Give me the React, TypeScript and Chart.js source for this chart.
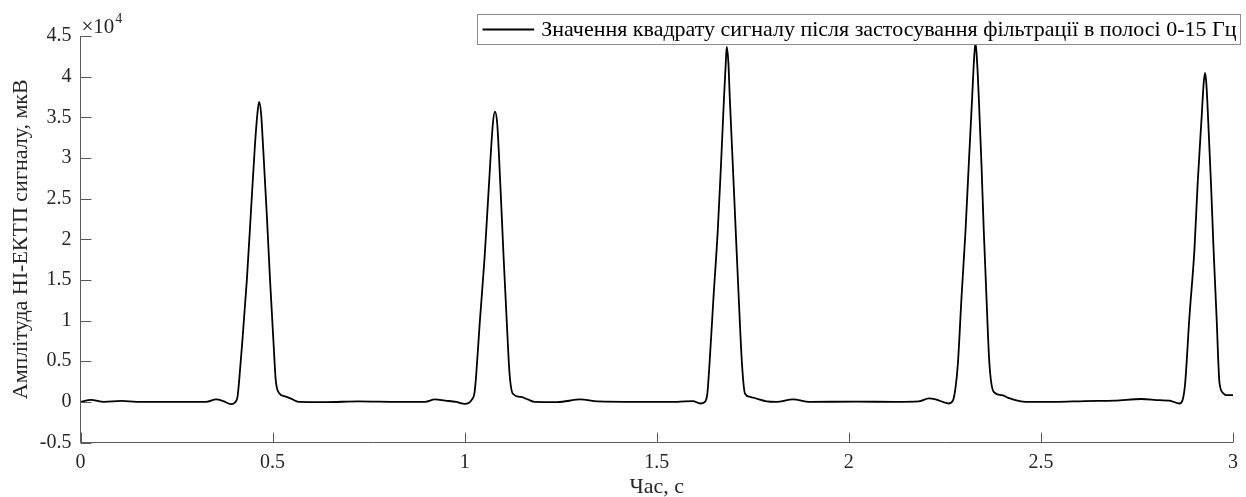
import React, { useEffect, useRef } from "react";
import { Chart, registerables } from "chart.js";

Chart.register(...registerables);

// Time stamps of the squared, band-limited signal (s)
const timeS = [
  0, 0.0272, 0.0609, 0.1067, 0.1463, 0.3276, 0.3528, 0.3717, 0.3916, 0.4027, 0.4087,
  0.4131, 0.4201, 0.433, 0.4434, 0.4538, 0.4605, 0.4649, 0.4701, 0.4753, 0.4848, 0.4934,
  0.503, 0.5082, 0.5167, 0.5341, 0.5478, 0.5685,
  0.6377, 0.7239, 0.8275, 0.8974, 0.9226, 0.9492, 0.9777, 1.0003, 1.0114, 1.0192, 1.0256,
  1.0303, 1.0391, 1.052, 1.0624, 1.0735, 1.0787, 1.0847, 1.0935, 1.1013, 1.1098, 1.1168,
  1.1254, 1.1468, 1.1642, 1.1823,
  1.2419, 1.3015, 1.3455, 1.4491, 1.5527, 1.5942, 1.6131, 1.6253, 1.6317,
  1.6374, 1.6478, 1.6589, 1.6674, 1.6752, 1.6796, 1.6822, 1.6866, 1.69, 1.6978, 1.7055,
  1.7133, 1.7218, 1.7296, 1.7425, 1.7599, 1.7858,
  1.8117, 1.8549, 1.8972, 2.0189, 2.1225, 2.182, 2.2087, 2.2261, 2.2605, 2.2714, 2.2779,
  2.2839, 2.2934, 2.3038, 2.3123, 2.3211, 2.3253, 2.3297, 2.3341, 2.3382, 2.3452, 2.3512,
  2.3582, 2.3659, 2.3771, 2.3988, 2.4151, 2.4333,
  2.4592, 2.5369, 2.6146, 2.6923, 2.7615, 2.8089, 2.8348, 2.8607, 2.8692,
  2.8754, 2.8866, 2.8995, 2.908, 2.9184, 2.9236, 2.9272, 2.9306, 2.935, 2.9427, 2.9495,
  2.9572, 2.965, 2.9754, 2.9823, 3.0,
];

// Squared signal amplitude (µV), axis shown in units of 10^4
const amplitude = [
  0, 250, 0, 120, 0, 0, 300, 100, -280, -50, 600,
  2680, 6770, 14970, 23170, 31370, 35470, 36900, 35470, 31370, 23170, 14970,
  6770, 2680, 1100, 650, 400, 0,
  -30, 60, 0, 0, 300, 150, 0, -250, -100, 300, 1100,
  3490, 9640, 17840, 26040, 34240, 35700, 34240, 26040, 17840, 9640, 3490,
  1000, 600, 300, 0,
  -30, 300, 50, 0, 0, 100, -200, 0, 1000,
  4720, 12920, 21120, 29320, 37520, 41620, 43670, 41620, 37520, 29320, 21120,
  12920, 4720, 1030, 620, 400, 60,
  0, 300, 0, 20, 0, 50, 420, 300, -200, 200, 1800,
  4720, 12920, 21120, 29320, 37520, 41620, 44200, 41620, 37520, 29320, 21120,
  12920, 4720, 1230, 820, 500, 200,
  0, 0, 100, 150, 350, 200, 150, -200, 300,
  2260, 10460, 18660, 26860, 35060, 39160, 40470, 39160, 35060, 26860, 18660,
  10460, 2260, 1030, 820, 820,
];

const xTickValues = [0, 0.5, 1, 1.5, 2, 2.5, 3];
const yTickValues = [-5000, 0, 5000, 10000, 15000, 20000, 25000, 30000, 35000, 40000, 45000];
const yScaleFactor = 10000;
const yExponentBase = "\u00d710";
const yExponent = "4";

const seriesLabel =
  "Значення квадрату сигналу після застосування фільтрації в полосі 0-15 Гц";
const xTitle = "Час, с";
const yTitle = "Амплітуда НІ-ЕКТП сигналу, мкВ";

const FONT = '"Liberation Serif", "Times New Roman", serif';
const TEXT_COLOR = "#262626";
const AXIS_COLOR = "#5a5a5a";

// Axis lines, inward tick marks, the ×10^4 multiplier and a boxed legend
const axesPlugin = {
  id: "matlabAxes",
  afterDraw(chart: any) {
    const { ctx, chartArea } = chart;
    const xs = chart.scales.x;
    const ys = chart.scales.y;
    const L = chartArea.left;
    const B = chartArea.bottom;
    const T = chartArea.top;
    const R = chartArea.right;
    ctx.save();
    ctx.strokeStyle = AXIS_COLOR;
    ctx.lineWidth = 1;
    ctx.beginPath();
    ctx.moveTo(L, T);
    ctx.lineTo(L, B);
    ctx.lineTo(R, B);
    ctx.stroke();

    ctx.beginPath();
    xTickValues.forEach((v) => {
      const px = Math.round(xs.getPixelForValue(v)) + 0.5;
      ctx.moveTo(px, B);
      ctx.lineTo(px, B - 10);
    });
    yTickValues.forEach((v) => {
      const py = Math.round(ys.getPixelForValue(v)) + 0.5;
      ctx.moveTo(L, py);
      ctx.lineTo(L + 11, py);
    });
    ctx.stroke();

    // exponent label above the y axis
    ctx.fillStyle = TEXT_COLOR;
    ctx.textBaseline = "alphabetic";
    ctx.textAlign = "left";
    ctx.font = `21px ${FONT}`;
    const baseX = L + 1;
    ctx.fillText(yExponentBase, baseX, T - 3);
    const bw = ctx.measureText(yExponentBase).width;
    ctx.font = `14px ${FONT}`;
    ctx.fillText(yExponent, baseX + bw + 1, T - 13);

    // legend box in the upper-right corner
    ctx.font = `22px ${FONT}`;
    const tw = ctx.measureText(seriesLabel).width;
    const boxRight = 1240.5;
    const boxTop = 14.5;
    const boxH = 30;
    const textX = boxRight - 4 - tw;
    const boxLeft = Math.round(textX - 64) + 0.5;
    ctx.fillStyle = "#ffffff";
    ctx.fillRect(boxLeft, boxTop, boxRight - boxLeft, boxH);
    ctx.strokeStyle = "#8c8c8c";
    ctx.lineWidth = 1;
    ctx.strokeRect(boxLeft, boxTop, boxRight - boxLeft, boxH);
    ctx.strokeStyle = "#000000";
    ctx.lineWidth = 1.8;
    ctx.beginPath();
    ctx.moveTo(boxLeft + 5, boxTop + boxH / 2);
    ctx.lineTo(textX - 7, boxTop + boxH / 2);
    ctx.stroke();
    ctx.fillStyle = "#000000";
    ctx.textBaseline = "middle";
    ctx.fillText(seriesLabel, textX, boxTop + boxH / 2 + 1);
    ctx.restore();
  },
};

export default function App() {
  const canvasRef = useRef<HTMLCanvasElement | null>(null);

  useEffect(() => {
    const canvas = canvasRef.current;
    if (!canvas) return;
    const points = timeS.map((t, i) => ({ x: t, y: amplitude[i] }));
    const chart = new Chart(canvas, {
      type: "line",
      data: {
        datasets: [
          {
            label: seriesLabel,
            data: points,
            borderColor: "#000000",
            borderWidth: 1.8,
            pointRadius: 0,
            fill: false,
            cubicInterpolationMode: "monotone",
          },
        ],
      },
      options: {
        responsive: false,
        animation: false,
        devicePixelRatio: 1,
        layout: { padding: { top: 36, right: 7.2, left: 0, bottom: 0 } },
        plugins: {
          legend: { display: false },
          tooltip: { enabled: false },
        },
        scales: {
          x: {
            type: "linear",
            min: 0,
            max: 3,
            afterFit: (s: any) => {
              s.height = 54.5;
            },
            afterBuildTicks: (s: any) => {
              s.ticks = xTickValues.map((v) => ({ value: v }));
            },
            grid: { display: false, drawTicks: false },
            border: { display: false },
            ticks: {
              padding: 8,
              color: TEXT_COLOR,
              font: { family: FONT, size: 20 },
              maxRotation: 0,
              callback: (v: any) => String(v),
            },
            title: {
              display: true,
              text: xTitle,
              color: TEXT_COLOR,
              font: { family: FONT, size: 22 },
              padding: { top: 0, bottom: -3 },
            },
          },
          y: {
            type: "linear",
            min: -5000,
            max: 45000,
            afterFit: (s: any) => {
              s.width = 80.5;
            },
            afterBuildTicks: (s: any) => {
              s.ticks = yTickValues.map((v) => ({ value: v }));
            },
            grid: { display: false, drawTicks: false },
            border: { display: false },
            ticks: {
              padding: 9,
              color: TEXT_COLOR,
              font: { family: FONT, size: 20 },
              callback: (v: any) => String(Number(v) / yScaleFactor),
            },
            title: {
              display: true,
              text: yTitle,
              color: TEXT_COLOR,
              font: { family: FONT, size: 22 },
              padding: { top: 8, bottom: 0 },
            },
          },
        },
      },
      plugins: [axesPlugin],
    });
    return () => chart.destroy();
  }, []);

  return (
    <div
      style={{
        position: "fixed",
        left: 0,
        top: 0,
        width: 1246,
        height: 497,
        background: "#ffffff",
      }}
    >
      <canvas ref={canvasRef} width={1246} height={497} />
    </div>
  );
}
